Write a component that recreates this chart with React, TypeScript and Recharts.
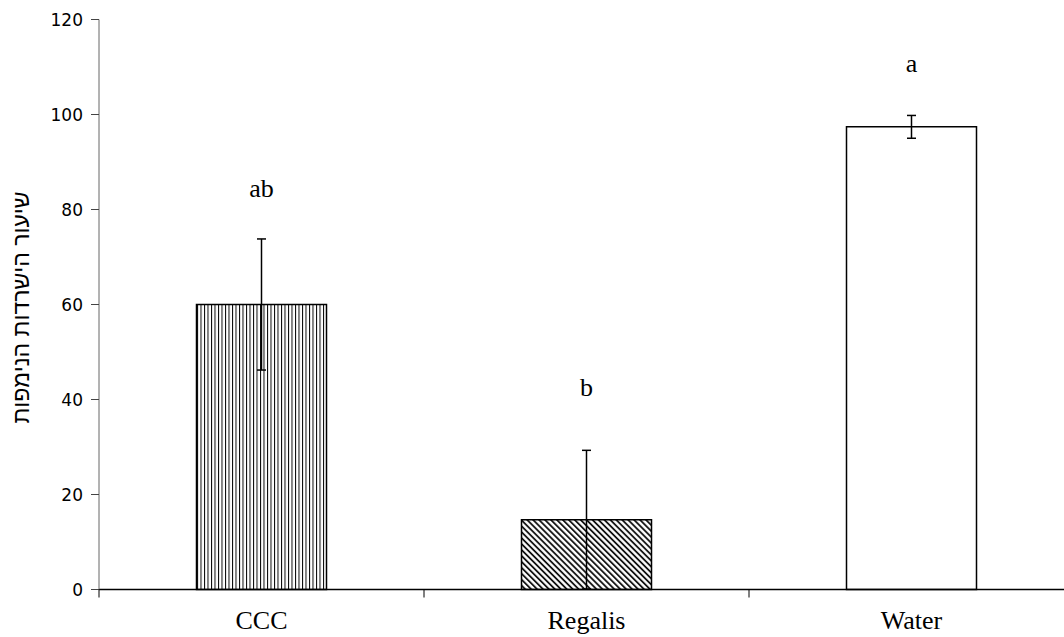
import React from 'react';
import { ComposedChart, Bar, Line, XAxis, YAxis, ErrorBar, Cell, LabelList } from 'recharts';

const categories = ['CCC', 'Regalis', 'Water'];
const values = [60, 14.7, 97.4];
const errors = [13.8, 14.6, 2.4];
const letters = ['ab', 'b', 'a'];
const letterBaseline = [82.6, 40.7, 109.0];
const yTicks = [0, 20, 40, 60, 80, 100, 120];
const yAxisTitle = 'שיעור הישרדות הנימפות';
const fills = ['url(#vstripes)', 'url(#dstripes)', '#ffffff'];

const data = categories.map((c, i) => ({
  name: c,
  value: values[i],
  err: errors[i],
  letter: letters[i],
  labelY: letterBaseline[i],
}));

const SERIF = '"Liberation Serif", "Times New Roman", serif';

const XTick = (props: any) => {
  const { x, y, payload } = props;
  const off = payload && payload.offset ? payload.offset : 162.5;
  return (
    <g>
      <line x1={x - off} y1={y} x2={x - off} y2={y + 8} stroke="#000" strokeWidth={1} />
      <text x={x} y={y + 39.5} textAnchor="middle" fontFamily={SERIF} fontSize={26} fill="#000">
        {payload.value}
      </text>
    </g>
  );
};

const LetterLabel = (props: any) => {
  const { x, y, value } = props;
  return (
    <text x={x} y={y} textAnchor="middle" fontFamily={SERIF} fontSize={26} fill="#000">
      {value}
    </text>
  );
};

const YTitle = (props: any) => {
  const vb = props.viewBox || { y: 11.5, height: 570 };
  const cy = vb.y + vb.height / 2 + 3;
  return (
    <text
      x={13}
      y={cy}
      transform={`rotate(-90, 13, ${cy})`}
      textAnchor="middle"
      dominantBaseline="central"
      fontFamily='"Liberation Sans", Arial, sans-serif'
      fontSize={23}
      fill="#000"
    >
      {yAxisTitle}
    </text>
  );
};

export default function App() {
  return (
    <div style={{ position: 'absolute', left: 8, top: 8, width: 1056, height: 629, overflow: 'hidden', background: '#fff' }}>
      <ComposedChart
        width={1066}
        height={629}
        data={data}
        margin={{ top: 11.5, right: 0, bottom: 0, left: 0 }}
        barCategoryGap="30%"
      >
        <defs>
          <pattern id="vstripes" patternUnits="userSpaceOnUse" width={3.5} height={10}>
            <rect x={0} y={0} width={3.5} height={10} fill="#fff" />
            <line x1={0.5} y1={0} x2={0.5} y2={10} stroke="#000" strokeWidth={1} />
          </pattern>
          <pattern id="dstripes" patternUnits="userSpaceOnUse" width={4.2} height={10} patternTransform="rotate(-45)">
            <rect x={0} y={0} width={4.2} height={10} fill="#fff" />
            <line x1={1} y1={0} x2={1} y2={10} stroke="#000" strokeWidth={1.7} />
          </pattern>
        </defs>
        <XAxis
          dataKey="name"
          height={47.5}
          axisLine={{ stroke: '#000', strokeWidth: 1.5 }}
          tickLine={false}
          tickSize={0}
          tickMargin={0}
          tick={<XTick />}
          interval={0}
        />
        <YAxis
          width={91}
          domain={[0, 120]}
          ticks={yTicks}
          interval={0}
          axisLine={{ stroke: '#666', strokeWidth: 1 }}
          tickLine={{ stroke: '#444', strokeWidth: 1 }}
          tickSize={8}
          tickMargin={8}
          tick={{ fontFamily: '"DejaVu Sans", Verdana, sans-serif', fontSize: 17, fill: '#000' }}
          label={{ content: YTitle }}
        />
        <Bar dataKey="value" stroke="#000" strokeWidth={1.5} isAnimationActive={false}>
          {data.map((d, i) => (
            <Cell key={d.name} fill={fills[i]} />
          ))}
          <ErrorBar dataKey="err" width={4.5} stroke="#000" strokeWidth={1.5} />
        </Bar>
        <Line dataKey="labelY" stroke="none" dot={false} activeDot={false} isAnimationActive={false} legendType="none">
          <LabelList dataKey="letter" content={<LetterLabel />} />
        </Line>
      </ComposedChart>
    </div>
  );
}
